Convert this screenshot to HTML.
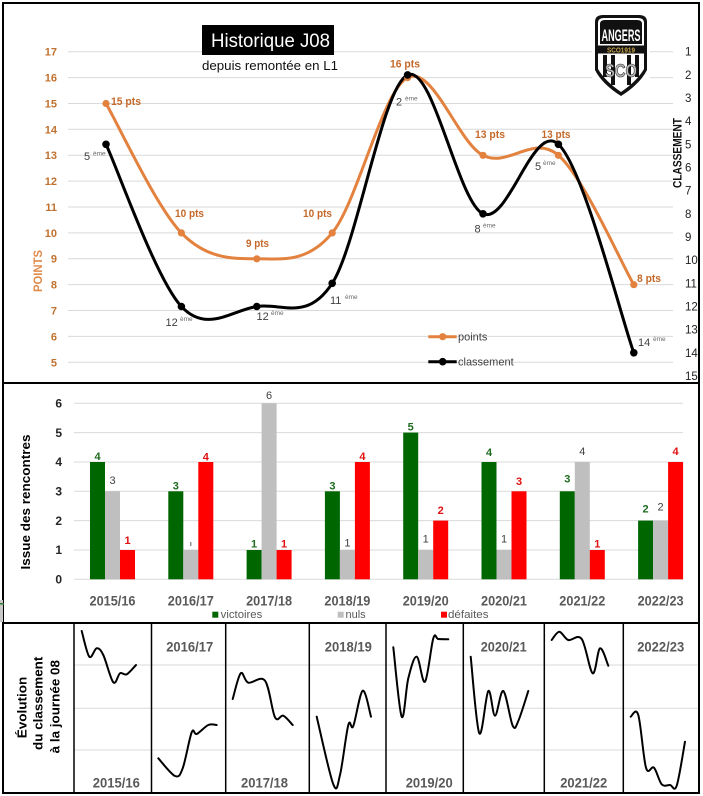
<!DOCTYPE html>
<html><head><meta charset="utf-8">
<style>
html,body{margin:0;padding:0;background:#fff;}
svg{display:block;font-family:"Liberation Sans",Arial,sans-serif;}
</style></head>
<body>
<svg id="s" width="703" height="796" viewBox="0 0 703 796" xmlns="http://www.w3.org/2000/svg">
<rect width="703" height="796" fill="#fff"/>

<!-- ============ TOP CHART ============ -->
<g stroke="#d9d9d9" stroke-width="1">
<line x1="68" x2="673" y1="51.7" y2="51.7"/>
<line x1="68" x2="673" y1="77.6" y2="77.6"/>
<line x1="68" x2="673" y1="103.5" y2="103.5"/>
<line x1="68" x2="673" y1="129.3" y2="129.3"/>
<line x1="68" x2="673" y1="155.2" y2="155.2"/>
<line x1="68" x2="673" y1="181.1" y2="181.1"/>
<line x1="68" x2="673" y1="207" y2="207"/>
<line x1="68" x2="673" y1="232.9" y2="232.9"/>
<line x1="68" x2="673" y1="258.7" y2="258.7"/>
<line x1="68" x2="673" y1="284.6" y2="284.6"/>
<line x1="68" x2="673" y1="310.5" y2="310.5"/>
<line x1="68" x2="673" y1="336.4" y2="336.4"/>
<line x1="68" x2="673" y1="362.3" y2="362.3"/>
</g>
<g fill="#C0712F" font-size="11" font-weight="bold" text-anchor="end">
<text x="57" y="55.7">17</text><text x="57" y="81.6">16</text><text x="57" y="107.5">15</text>
<text x="57" y="133.3">14</text><text x="57" y="159.2">13</text><text x="57" y="185.1">12</text>
<text x="57" y="211">11</text><text x="57" y="236.9">10</text><text x="57" y="262.7">9</text>
<text x="57" y="288.6">8</text><text x="57" y="314.5">7</text><text x="57" y="340.4">6</text>
<text x="57" y="366.3">5</text>
</g>
<g fill="#222" font-size="11.5" text-anchor="start">
<text x="685" y="55.7">1</text><text x="685" y="78.9">2</text><text x="685" y="102">3</text>
<text x="685" y="125.2">4</text><text x="685" y="148.3">5</text><text x="685" y="171.5">6</text>
<text x="685" y="194.7">7</text><text x="685" y="217.8">8</text><text x="685" y="241">9</text>
<text x="685" y="264.1">10</text><text x="685" y="287.3">11</text><text x="685" y="310.5">12</text>
<text x="685" y="333.6">13</text><text x="685" y="356.8">14</text><text x="685" y="380">15</text>
</g>
<text transform="translate(42,271) rotate(-90)" text-anchor="middle" fill="#E08A4A" font-size="12" font-weight="bold" textLength="42" lengthAdjust="spacingAndGlyphs">POINTS</text>
<text transform="translate(681.5,153) rotate(-90)" text-anchor="middle" fill="#111" font-size="11.5" font-weight="bold" textLength="70" lengthAdjust="spacingAndGlyphs">CLASSEMENT</text>

<!-- title -->
<rect x="202" y="25" width="132" height="30" fill="#000"/>
<text x="211" y="47" fill="#fff" font-size="19" textLength="119" lengthAdjust="spacingAndGlyphs">Historique J08</text>
<text x="202" y="70" fill="#111" font-size="13" textLength="136" lengthAdjust="spacingAndGlyphs">depuis remontée en L1</text>

<!-- logo -->
<g>
<rect x="592" y="13" width="58" height="86" fill="#fff"/>
<path d="M595,22 Q595,15 603,15 L639,15 Q647,15 647,22 L647,70 Q640,84 621,96 Q602,84 595,70 Z" fill="#111"/>
<path d="M598,23 Q598,18 604,18 L638,18 Q644,18 644,23 L644,69 Q637,81 621,92 Q605,81 598,69 Z" fill="#fff"/>
<path d="M600,24 Q600,20 605,20 L637,20 Q642,20 642,24 L642,44 L600,44 Z" fill="#111"/>
<text x="621" y="41" fill="#fff" font-size="17" font-weight="bold" text-anchor="middle" textLength="39" lengthAdjust="spacingAndGlyphs">ANGERS</text>
<rect x="598" y="45.5" width="46" height="8" fill="#111"/>
<text x="621" y="52.3" fill="#c9a64a" font-size="7" font-weight="bold" text-anchor="middle" textLength="28" lengthAdjust="spacingAndGlyphs">SCO1919</text>
<g fill="#111">
<rect x="603" y="55" width="4" height="22"/><rect x="611" y="55" width="4" height="30"/>
<rect x="627" y="55" width="4" height="30"/><rect x="635" y="55" width="4" height="22"/>
</g>
<text x="621" y="77" fill="#bbb" stroke="#222" stroke-width="0.6" font-size="18" font-weight="bold" text-anchor="middle" textLength="32" lengthAdjust="spacingAndGlyphs">SCO</text>
</g>

<!-- series -->
<path id="lp" d="M106,103.5 L181.4,232.9 L256.8,258.8 L332.2,232.9 L407.6,77.6 L483,155.3 L558.4,155.3 L633.8,284.7" fill="none" stroke="#E3823F" stroke-width="3" stroke-linejoin="round"/>
<path id="lc" d="M106,144.3 L181.4,306.5 L256.8,306.5 L332.2,283.3 L407.6,74.9 L483,213.8 L558.4,144.3 L633.8,352.8" fill="none" stroke="#000" stroke-width="3" stroke-linejoin="round"/>
<g fill="#E3823F">
<circle cx="106" cy="103.5" r="3.6"/><circle cx="181.4" cy="232.9" r="3.6"/><circle cx="256.8" cy="258.8" r="3.6"/>
<circle cx="332.2" cy="232.9" r="3.6"/><circle cx="407.6" cy="77.6" r="3.6"/><circle cx="483" cy="155.3" r="3.6"/>
<circle cx="558.4" cy="155.3" r="3.6"/><circle cx="633.8" cy="284.7" r="3.6"/>
</g>
<g fill="#000">
<circle cx="106" cy="144.3" r="3.8"/><circle cx="181.4" cy="306.5" r="3.8"/><circle cx="256.8" cy="306.5" r="3.8"/>
<circle cx="332.2" cy="283.3" r="3.8"/><circle cx="407.6" cy="74.9" r="3.8"/><circle cx="483" cy="213.8" r="3.8"/>
<circle cx="558.4" cy="144.3" r="3.8"/><circle cx="633.8" cy="352.8" r="3.8"/>
</g>
<g fill="#C4692A" font-size="11" font-weight="bold">
<text x="111" y="105" textLength="30" lengthAdjust="spacingAndGlyphs">15 pts</text>
<text x="175" y="217" textLength="29" lengthAdjust="spacingAndGlyphs">10 pts</text>
<text x="246" y="247" textLength="23" lengthAdjust="spacingAndGlyphs">9 pts</text>
<text x="303" y="217" textLength="29" lengthAdjust="spacingAndGlyphs">10 pts</text>
<text x="390" y="67.5" textLength="30" lengthAdjust="spacingAndGlyphs">16 pts</text>
<text x="475" y="138" textLength="30" lengthAdjust="spacingAndGlyphs">13 pts</text>
<text x="541.5" y="138" textLength="29" lengthAdjust="spacingAndGlyphs">13 pts</text>
<text x="637" y="282" textLength="24" lengthAdjust="spacingAndGlyphs">8 pts</text>
</g>
<g fill="#404040" font-size="11">
<text x="84" y="160">5</text><text x="165.5" y="326">12</text><text x="256.5" y="320">12</text>
<text x="330" y="304">11</text><text x="396" y="105.5">2</text><text x="474.5" y="232.5">8</text>
<text x="535" y="170">5</text><text x="638" y="346">14</text>
</g>
<g fill="#6a6a6a" font-size="6.5">
<text x="93" y="155.5">ème</text><text x="180" y="321">ème</text><text x="271" y="315">ème</text>
<text x="345" y="299">ème</text><text x="405" y="100.5">ème</text><text x="483" y="227.5">ème</text>
<text x="543" y="165">ème</text><text x="653" y="341">ème</text>
</g>
<!-- legend -->
<line x1="428.3" x2="456.7" y1="336.7" y2="336.7" stroke="#E3823F" stroke-width="3"/>
<circle cx="442.7" cy="336.7" r="3.6" fill="#E3823F"/>
<text x="458" y="340.7" fill="#404040" font-size="11">points</text>
<line x1="428.3" x2="456.7" y1="361.7" y2="361.7" stroke="#000" stroke-width="3"/>
<circle cx="442.7" cy="361.7" r="3.8" fill="#000"/>
<text x="458" y="365.7" fill="#404040" font-size="11">classement</text>

<!-- ============ BAR CHART ============ -->
<g stroke="#d9d9d9" stroke-width="1">
<line x1="74" x2="683" y1="403.3" y2="403.3"/><line x1="74" x2="683" y1="432.6" y2="432.6"/>
<line x1="74" x2="683" y1="462" y2="462"/><line x1="74" x2="683" y1="491.3" y2="491.3"/>
<line x1="74" x2="683" y1="520.6" y2="520.6"/><line x1="74" x2="683" y1="550" y2="550"/>
<line x1="74" x2="683" y1="579.3" y2="579.3"/>
</g>
<g fill="#262626" font-size="12" font-weight="bold" text-anchor="end">
<text x="62" y="407.5">6</text><text x="62" y="436.8">5</text><text x="62" y="466.2">4</text>
<text x="62" y="495.5">3</text><text x="62" y="524.8">2</text><text x="62" y="554.2">1</text>
<text x="62" y="583.5">0</text>
</g>
<text transform="translate(30,502) rotate(-90)" text-anchor="middle" fill="#000" font-size="13" font-weight="bold" textLength="135" lengthAdjust="spacingAndGlyphs">Issue des rencontres</text>

<g>
<rect x="90" y="462" width="15" height="117.3" fill="#006600"/>
<rect x="105" y="491.3" width="15" height="88" fill="#bfbfbf"/>
<rect x="120" y="550" width="15" height="29.3" fill="#ff0000"/>
<rect x="168.3" y="491.3" width="15" height="88" fill="#006600"/>
<rect x="183.3" y="550" width="15" height="29.3" fill="#bfbfbf"/>
<rect x="198.3" y="462" width="15" height="117.3" fill="#ff0000"/>
<rect x="246.6" y="550" width="15" height="29.3" fill="#006600"/>
<rect x="261.6" y="403.3" width="15" height="176" fill="#bfbfbf"/>
<rect x="276.6" y="550" width="15" height="29.3" fill="#ff0000"/>
<rect x="324.9" y="491.3" width="15" height="88" fill="#006600"/>
<rect x="339.9" y="550" width="15" height="29.3" fill="#bfbfbf"/>
<rect x="354.9" y="462" width="15" height="117.3" fill="#ff0000"/>
<rect x="403.2" y="432.6" width="15" height="146.7" fill="#006600"/>
<rect x="418.2" y="550" width="15" height="29.3" fill="#bfbfbf"/>
<rect x="433.2" y="520.6" width="15" height="58.7" fill="#ff0000"/>
<rect x="481.5" y="462" width="15" height="117.3" fill="#006600"/>
<rect x="496.5" y="550" width="15" height="29.3" fill="#bfbfbf"/>
<rect x="511.5" y="491.3" width="15" height="88" fill="#ff0000"/>
<rect x="559.8" y="491.3" width="15" height="88" fill="#006600"/>
<rect x="574.8" y="462" width="15" height="117.3" fill="#bfbfbf"/>
<rect x="589.8" y="550" width="15" height="29.3" fill="#ff0000"/>
<rect x="638.1" y="520.6" width="15" height="58.7" fill="#006600"/>
<rect x="653.1" y="520.6" width="15" height="58.7" fill="#bfbfbf"/>
<rect x="668.1" y="462" width="15" height="117.3" fill="#ff0000"/>
</g>
<g fill="#1f6b1f" font-size="11" font-weight="bold" text-anchor="middle">
<text x="97.5" y="460">4</text><text x="175.8" y="489.3">3</text><text x="254.1" y="547.7">1</text>
<text x="332.4" y="489.3">3</text><text x="410.7" y="430.7">5</text><text x="489" y="456">4</text>
<text x="567.3" y="482.3">3</text><text x="645.6" y="512.7">2</text>
</g>
<g fill="#404040" font-size="11" text-anchor="middle">
<text x="112.5" y="484">3</text><text x="269.1" y="399">6</text>
<text x="347.4" y="546.7">1</text><text x="425.7" y="542.7">1</text><text x="504" y="542.7">1</text>
<text x="582.3" y="455">4</text><text x="660.6" y="510.7">2</text>
</g>
<rect x="190.2" y="542" width="1.2" height="4" fill="#777"/>
<g fill="#e01010" font-size="11" font-weight="bold" text-anchor="middle">
<text x="127.5" y="544">1</text><text x="205.8" y="460.7">4</text><text x="284.1" y="547.7">1</text>
<text x="362.4" y="460">4</text><text x="440.7" y="514">2</text><text x="519" y="485">3</text>
<text x="597.3" y="547.3">1</text><text x="675.6" y="455">4</text>
</g>
<g fill="#595959" font-size="14" font-weight="bold" text-anchor="middle">
<text x="112.5" y="605.5" textLength="46" lengthAdjust="spacingAndGlyphs">2015/16</text>
<text x="190.8" y="605.5" textLength="46" lengthAdjust="spacingAndGlyphs">2016/17</text>
<text x="269.1" y="605.5" textLength="46" lengthAdjust="spacingAndGlyphs">2017/18</text>
<text x="347.4" y="605.5" textLength="46" lengthAdjust="spacingAndGlyphs">2018/19</text>
<text x="425.7" y="605.5" textLength="46" lengthAdjust="spacingAndGlyphs">2019/20</text>
<text x="504" y="605.5" textLength="46" lengthAdjust="spacingAndGlyphs">2020/21</text>
<text x="582.3" y="605.5" textLength="46" lengthAdjust="spacingAndGlyphs">2021/22</text>
<text x="660.6" y="605.5" textLength="46" lengthAdjust="spacingAndGlyphs">2022/23</text>
</g>
<rect x="212.3" y="611.7" width="6" height="6" fill="#006600"/>
<text x="220.7" y="618" fill="#595959" font-size="11" textLength="41.6" lengthAdjust="spacingAndGlyphs">victoires</text>
<rect x="337.7" y="611.7" width="6" height="6" fill="#bfbfbf"/>
<text x="345.5" y="618" fill="#595959" font-size="11">nuls</text>
<rect x="441" y="611.7" width="6" height="6" fill="#ff0000"/>
<text x="448" y="618" fill="#595959" font-size="11" textLength="40.5" lengthAdjust="spacingAndGlyphs">défaites</text>

<!-- ============ SPARKLINES ============ -->
<g stroke="#d9d9d9" stroke-width="1">
<line x1="74" x2="698" y1="665" y2="665"/>
<line x1="74" x2="698" y1="708.3" y2="708.3"/>
<line x1="74" x2="698" y1="750" y2="750"/>
</g>
<g stroke="#000" stroke-width="1.5">
<line x1="74" x2="74" y1="623" y2="793"/><line x1="151.5" x2="151.5" y1="623" y2="793"/>
<line x1="225.7" x2="225.7" y1="623" y2="793"/><line x1="309.3" x2="309.3" y1="623" y2="793"/>
<line x1="386" x2="386" y1="623" y2="793"/><line x1="463.3" x2="463.3" y1="623" y2="793"/>
<line x1="544.3" x2="544.3" y1="623" y2="793"/><line x1="623.3" x2="623.3" y1="623" y2="793"/>
</g>
<g fill="#595959" font-size="14" font-weight="bold" text-anchor="middle">
<text x="116.3" y="787.5" textLength="47" lengthAdjust="spacingAndGlyphs">2015/16</text>
<text x="189.7" y="651.7" textLength="47" lengthAdjust="spacingAndGlyphs">2016/17</text>
<text x="264.5" y="787.5" textLength="47" lengthAdjust="spacingAndGlyphs">2017/18</text>
<text x="348.3" y="651.7" textLength="47" lengthAdjust="spacingAndGlyphs">2018/19</text>
<text x="429.2" y="787.5" textLength="47" lengthAdjust="spacingAndGlyphs">2019/20</text>
<text x="503.7" y="651.7" textLength="46" lengthAdjust="spacingAndGlyphs">2020/21</text>
<text x="583.7" y="787.5" textLength="47" lengthAdjust="spacingAndGlyphs">2021/22</text>
<text x="660.7" y="651.7" textLength="47" lengthAdjust="spacingAndGlyphs">2022/23</text>
</g>
<g fill="#000" font-size="13" font-weight="bold" text-anchor="middle">
<text transform="translate(26.5,707.5) rotate(-90)" textLength="61.6" lengthAdjust="spacingAndGlyphs">Évolution</text>
<text transform="translate(42.5,703.3) rotate(-90)" textLength="93.3" lengthAdjust="spacingAndGlyphs">du classement</text>
<text transform="translate(59.3,706.7) rotate(-90)" textLength="93.3" lengthAdjust="spacingAndGlyphs">à la journée 08</text>
</g>
<g fill="none" stroke="#000" stroke-width="2" stroke-linejoin="round" stroke-linecap="round">
<path id="s1" d="M81.7,631 L89.3,656.7 L96.7,648.3 L103.3,655 L113.3,682.3 L120,673.3 L126.7,674.3 L136,665"/>
<path id="s2" d="M158.3,758.3 L175,776 L182.7,768.3 L191.7,732.3 L196.7,734 L208.3,725 L216.7,725"/>
<path id="s3" d="M232.7,699 L240.7,673.3 L248.3,682.7 L265,680.7 L275,717.3 L283.3,715.7 L292.7,725"/>
<path id="s4" d="M316.7,716.7 L333.3,784.3 L340,775 L348.3,725 L353.3,726 L362.7,690.7 L371,716.7"/>
<path id="s5" d="M393.3,647.3 L401.7,716.7 L408.3,678.3 L416.7,656.7 L425,681.7 L433.3,638.3 L438.3,639 L448.3,639.3"/>
<path id="s6" d="M470.7,656.7 L479.3,733.3 L488.3,691 L495,715.7 L503.3,691 L512.7,725.7 L518.3,721 L528.3,691"/>
<path id="s7" d="M551.7,640 L559.3,631.7 L568.3,640 L581.7,639 L592.7,673.3 L600,648.3 L608.3,665.7"/>
<path id="s8" d="M630.7,716.7 L638.3,715 L646,767.7 L654,767.7 L661.7,784.3 L670,785 L676.7,785.7 L685,741.7"/>
</g>

<!-- frame -->
<rect x="3" y="3" width="696" height="790" fill="none" stroke="#000" stroke-width="2"/>
<line x1="3" x2="699" y1="383" y2="383" stroke="#000" stroke-width="2"/>
<line x1="3" x2="699" y1="623" y2="623" stroke="#000" stroke-width="2"/>
<rect x="0" y="600" width="3" height="22" fill="#c8c8c8"/>
<rect x="0" y="603" width="4" height="1.5" fill="#2e7a2e"/>
</svg>
<script>
(function(){
function smooth(id){
  var p=document.getElementById(id); if(!p) return;
  var d=p.getAttribute('d'); var nums=d.match(/-?[0-9.]+/g).map(Number);
  var pts=[]; for(var i=0;i<nums.length;i+=2) pts.push([nums[i],nums[i+1]]);
  var n=pts.length, s='M'+pts[0][0]+','+pts[0][1];
  for(var i=0;i<n-1;i++){
    var p0=pts[Math.max(i-1,0)],p1=pts[i],p2=pts[i+1],p3=pts[Math.min(i+2,n-1)];
    var c1=[p1[0]+(p2[0]-p0[0])/6,p1[1]+(p2[1]-p0[1])/6];
    var c2=[p2[0]-(p3[0]-p1[0])/6,p2[1]-(p3[1]-p1[1])/6];
    s+=' C'+c1[0].toFixed(2)+','+c1[1].toFixed(2)+' '+c2[0].toFixed(2)+','+c2[1].toFixed(2)+' '+p2[0]+','+p2[1];
  }
  p.setAttribute('d',s);
}
['lp','lc','s1','s2','s3','s4','s5','s6','s7','s8'].forEach(smooth);
})();
</script>
</body></html>
